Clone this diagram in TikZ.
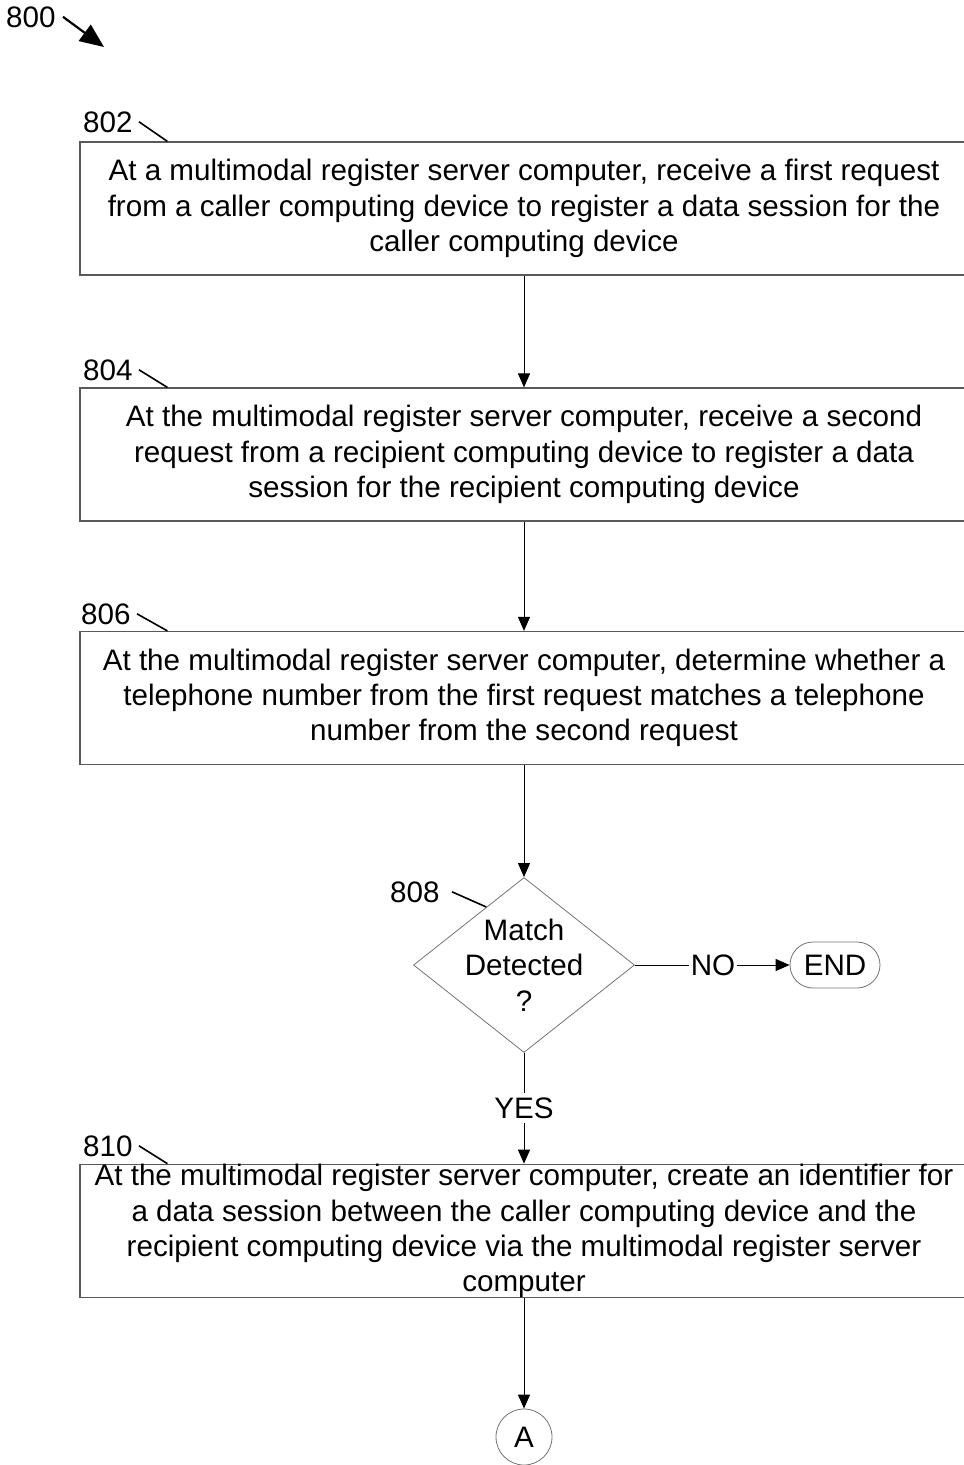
\documentclass[tikz,border=0pt]{standalone}
\usepackage{fontspec}
\setmainfont{Liberation Sans}
\usetikzlibrary{arrows.meta,calc,positioning,shapes.geometric}
\tikzset{
	flow chart/.style={
		x=1pt, y=-1pt,
		font=\fontsize{29.6}{35.3}\selectfont,
		every node/.style={inner sep=0pt},
		ar/.style={line width=1pt,-{Triangle[length=14pt,width=12pt]}},
		line width=1pt},
	stepbox/.style={draw=black!65, line width=1.2pt, rectangle, align=center,
		minimum width=888pt, minimum height=133pt},
	decision/.style={draw=black!55, line width=.8pt, diamond,
		minimum width=221pt, minimum height=175pt},
	terminal/.style={draw=black!55, line width=.8pt, rounded corners=23pt,
		minimum width=90pt, minimum height=46pt},
	offpage/.style={draw=black!55, line width=.8pt, circle, minimum size=56pt},
	tag/.style={anchor=base east},
	leader/.style={line width=1.6pt}
}

\begin{document}
\begin{tikzpicture}[flow chart]
	\useasboundingbox (0,0) rectangle (964,1465);
	% figure number
	\node[tag] (t800) at (56,27) {800};
	\coordinate (p800) at (104,47);
	\draw[line width=2.2pt,-{Triangle[length=24pt,width=20pt]}] ([xshift=7pt]t800.east) -- (p800);
	% steps
	\node[stepbox] (b802) at (524,208.5) {At a multimodal register server computer, receive a first request\\
		from a caller computing device to register a data session for the\\
		caller computing device};
	\node[stepbox] (b804) at (524,454.5) {At the multimodal register server computer, receive a second\\
		request from a recipient computing device to register a data\\
		session for the recipient computing device};
	\node[stepbox] (b806) at (524,698) {At the multimodal register server computer, determine whether a\\
		telephone number from the first request matches a telephone\\
		number from the second request};
	\node[decision] (d808) at (524,965) {};
	\node[align=center] (q808) at (d808.center) {Match\\Detected\\?};
	\node[inner xsep=1pt] (no) at (713,965) {NO};
	\node[terminal] (end) at (835,965) {END};
	\node[inner sep=4pt] (yes) at (524,1108) {YES};
	\node[stepbox] (b810) at (524,1231) {At the multimodal register server computer, create an identifier for\\
		a data session between the caller computing device and the\\
		recipient computing device via the multimodal register server\\
		computer};
	\node[offpage] (A) at (524,1437) {A};
	% reference numerals
	\node[tag] (t802) at (133,132) {802};
	\node[tag] (t804) at (133,380) {804};
	\node[tag] (t806) at (131,624) {806};
	\node[tag] (t808) at (440,902) {808};
	\node[tag] (t810) at (133,1156) {810};
	\coordinate (c802) at ($(b802.north west)+(88,0)$);
	\coordinate (c804) at ($(b804.north west)+(88,0)$);
	\coordinate (c806) at ($(b806.north west)+(88,0)$);
	\coordinate (c808) at ($(d808.north)!.34!(d808.west)$);
	\coordinate (c810) at ($(b810.north west)+(88,0)$);
	\foreach \n in {802,804,806,810}
		\draw[leader] ([xshift=6pt]t\n.east) -- (c\n);
	\draw[leader] ([xshift=12pt]t808.east) -- (c808);
	% flow
	\draw[ar] (b802) -- (b804);
	\draw[ar] (b804) -- (b806);
	\draw[ar] (b806) -- (d808);
	\draw (d808.east) -- (no.west);
	\draw[ar] (no.east) -- (end.west);
	\draw (d808.south) -- (yes.north);
	\draw[ar] (yes.south) -- (b810.north);
	\draw[ar] (b810) -- (A);
\end{tikzpicture}
\end{document}
